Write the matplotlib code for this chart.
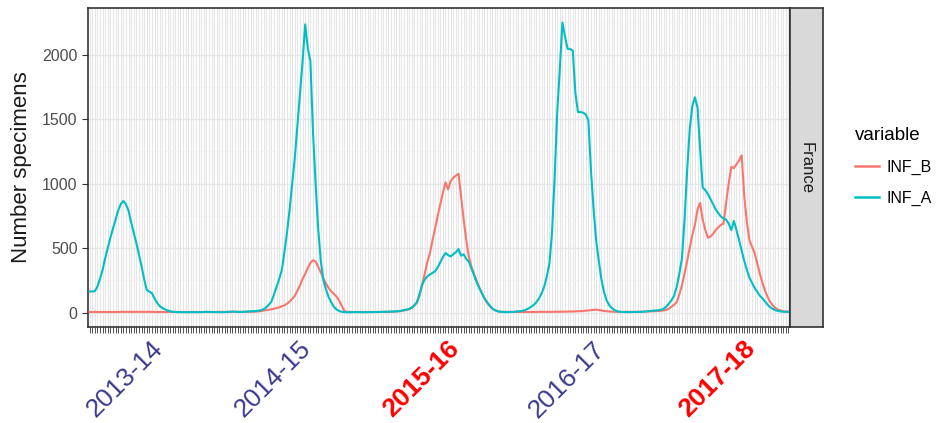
import numpy as np
import matplotlib
matplotlib.use('Agg')
import matplotlib.pyplot as plt
from matplotlib.lines import Line2D

plt.rcParams['font.family'] = ['Liberation Sans', 'DejaVu Sans']

# weekly specimen counts, France, one value per week
inf_a = [
    163, 163, 165, 200, 260, 330, 420, 500, 580, 650,
    720, 790, 840, 866, 840, 790, 700, 620, 540, 450,
    360, 260, 175, 163, 150, 110, 75, 50, 35, 25,
    15, 10, 6, 4, 3, 3, 2, 2, 2, 3,
    3, 2, 2, 3, 4, 5, 5, 4, 3, 3,
    2, 2, 3, 4, 6, 8, 7, 5, 4, 5,
    6, 8, 9, 10, 12, 14, 18, 25, 40, 60,
    85, 140, 200, 260, 330, 470, 620, 800, 1000, 1200,
    1450, 1700, 1950, 2235, 2050, 1950, 1400, 1000, 650, 400,
    250, 180, 120, 80, 45, 25, 12, 6, 3, 2,
    2, 2, 3, 3, 3, 2, 2, 2, 3, 3,
    4, 4, 5, 5, 6, 6, 7, 8, 9, 10,
    14, 18, 22, 28, 38, 55, 80, 140, 215, 255,
    280, 295, 308, 320, 350, 390, 430, 462, 445, 435,
    452, 468, 492, 440, 452, 415, 395, 340, 290, 235,
    190, 150, 110, 80, 55, 32, 18, 10, 6, 4,
    3, 3, 4, 5, 7, 9, 11, 15, 22, 32,
    45, 60, 80, 110, 150, 200, 280, 380, 620, 1050,
    1550, 1890, 2250, 2140, 2045, 2045, 2030, 1700, 1555, 1555,
    1550, 1535, 1490, 1100, 800, 560, 400, 260, 160, 95,
    58, 35, 20, 10, 6, 4, 3, 3, 3, 4,
    4, 5, 5, 6, 8, 10, 12, 14, 16, 18,
    22, 30, 45, 70, 95, 130, 200, 300, 420, 720,
    1100, 1420, 1600, 1670, 1590, 1270, 970, 950, 920, 880,
    840, 800, 770, 745, 730, 720, 690, 640, 710, 640,
    560, 480, 400, 330, 270, 230, 190, 160, 130, 110,
    85, 60, 40, 28, 18, 12, 8, 6, 5, 5,
]

inf_b = [
    4, 4, 4, 4, 4, 4, 4, 4, 4, 4,
    4, 4, 5, 5, 5, 5, 5, 5, 5, 5,
    5, 5, 5, 5, 5, 4, 4, 4, 4, 4,
    4, 4, 4, 4, 4, 4, 4, 4, 4, 4,
    4, 4, 4, 4, 4, 4, 4, 4, 4, 5,
    5, 5, 5, 5, 5, 5, 5, 5, 5, 5,
    6, 6, 6, 6, 7, 9, 11, 15, 18, 21,
    25, 30, 35, 40, 48, 56, 68, 85, 105, 130,
    170, 210, 260, 300, 345, 385, 405, 395, 355, 310,
    265, 225, 190, 165, 145, 125, 95, 55, 15, 5,
    4, 4, 4, 4, 4, 4, 4, 4, 4, 4,
    4, 4, 4, 5, 5, 5, 6, 6, 8, 10,
    12, 15, 20, 25, 35, 55, 75, 135, 215, 300,
    390, 460, 560, 650, 750, 840, 930, 1010, 955, 1020,
    1045, 1062, 1076, 900, 720, 560, 430, 355, 300, 245,
    195, 150, 110, 75, 50, 30, 18, 10, 6, 5,
    5, 5, 5, 5, 5, 4, 4, 4, 4, 4,
    4, 4, 4, 5, 5, 5, 5, 5, 5, 6,
    6, 6, 6, 7, 7, 8, 8, 9, 10, 11,
    12, 14, 16, 18, 20, 22, 20, 16, 12, 10,
    8, 7, 6, 6, 5, 5, 5, 5, 5, 5,
    5, 5, 6, 6, 7, 8, 9, 10, 11, 12,
    14, 16, 20, 30, 45, 60, 80, 140, 210, 300,
    400, 500, 600, 680, 800, 850, 720, 640, 580, 590,
    610, 640, 660, 680, 690, 850, 1000, 1130, 1120, 1150,
    1180, 1220, 900, 700, 560, 510, 460, 380, 300, 230,
    170, 120, 80, 55, 35, 22, 15, 10, 8, 6,
]

seasons = ['2013-14', '2014-15', '2015-16', '2016-17', '2017-18']
season_week = [30, 87, 144, 200, 258]
highlight = ['2015-16', '2017-18']

col_b = '#F8766D'
col_a = '#00BFC4'

W, H = 938, 423
fig = plt.figure(figsize=(W / 100, H / 100), dpi=100)

# panel
px0, px1, py0, py1 = 88, 790, 8, 327
ax = fig.add_axes([px0 / W, 1 - py1 / H, (px1 - px0) / W, (py1 - py0) / H])

x = np.arange(len(inf_a))
ax.plot(x, inf_b, color=col_b, lw=1.5, zorder=3)
ax.plot(x, inf_a, color=col_a, lw=1.5, zorder=4)

ax.set_xlim(-0.6, len(x) - 1 + 0.6)
ymax = max(max(inf_a), max(inf_b))
ax.set_ylim(-0.05 * ymax, ymax * 1.05)

# one gridline and tick per week
ax.set_xticks(x, minor=True)
ax.set_xticks(season_week)
ax.set_xticklabels(seasons, rotation=45, ha='right', fontsize=19)
for lab in ax.get_xticklabels():
    if lab.get_text() in highlight:
        lab.set_color('#FF0000')
        lab.set_fontweight('bold')
    else:
        lab.set_color('#3B3B8F')

ax.set_yticks([0, 500, 1000, 1500, 2000])
ax.set_yticks([250, 750, 1250, 1750, 2250], minor=True)

ax.set_axisbelow(True)
ax.grid(which='both', axis='x', color='#E6E6E6', lw=0.8)
ax.grid(which='major', axis='y', color='#E6E6E6', lw=1.0)
ax.grid(which='minor', axis='y', color='#F0F0F0', lw=0.5)

ax.tick_params(axis='x', which='both', length=4, width=0.6, color='#333333', pad=3)
ax.tick_params(axis='y', which='major', length=4, width=0.8, color='#333333',
               labelsize=11.5, labelcolor='#4D4D4D')
ax.tick_params(axis='y', which='minor', length=0)
for s in ax.spines.values():
    s.set_color('#333333')
    s.set_linewidth(1.2)

fig.text(22 / W, 1 - (py0 + py1) / 2 / H, 'Number specimens', rotation=90,
         ha='center', va='center', fontsize=16, color='#1A1A1A')

# facet strip
sx1 = 823
strip = fig.add_axes([px1 / W, 1 - py1 / H, (sx1 - px1) / W, (py1 - py0) / H])
strip.set_facecolor('#D9D9D9')
strip.set_xticks([])
strip.set_yticks([])
for s in strip.spines.values():
    s.set_color('#333333')
    s.set_linewidth(1.2)
strip.text(0.5, 0.5, 'France', rotation=-90, ha='center', va='center',
           fontsize=12, color='#1A1A1A', transform=strip.transAxes)

# legend
handles = [Line2D([], [], color=col_b, lw=1.8), Line2D([], [], color=col_a, lw=1.8)]
fig.legend(handles, ['INF_B', 'INF_A'], title='variable', loc='upper left',
           bbox_to_anchor=(855 / W, 1 - 127 / H), frameon=False, fontsize=11.5,
           title_fontsize=13.5, handlelength=1.5, handletextpad=0.5,
           labelspacing=1.0, borderpad=0, borderaxespad=0, alignment='left')

fig.savefig('out.png', dpi=100)
